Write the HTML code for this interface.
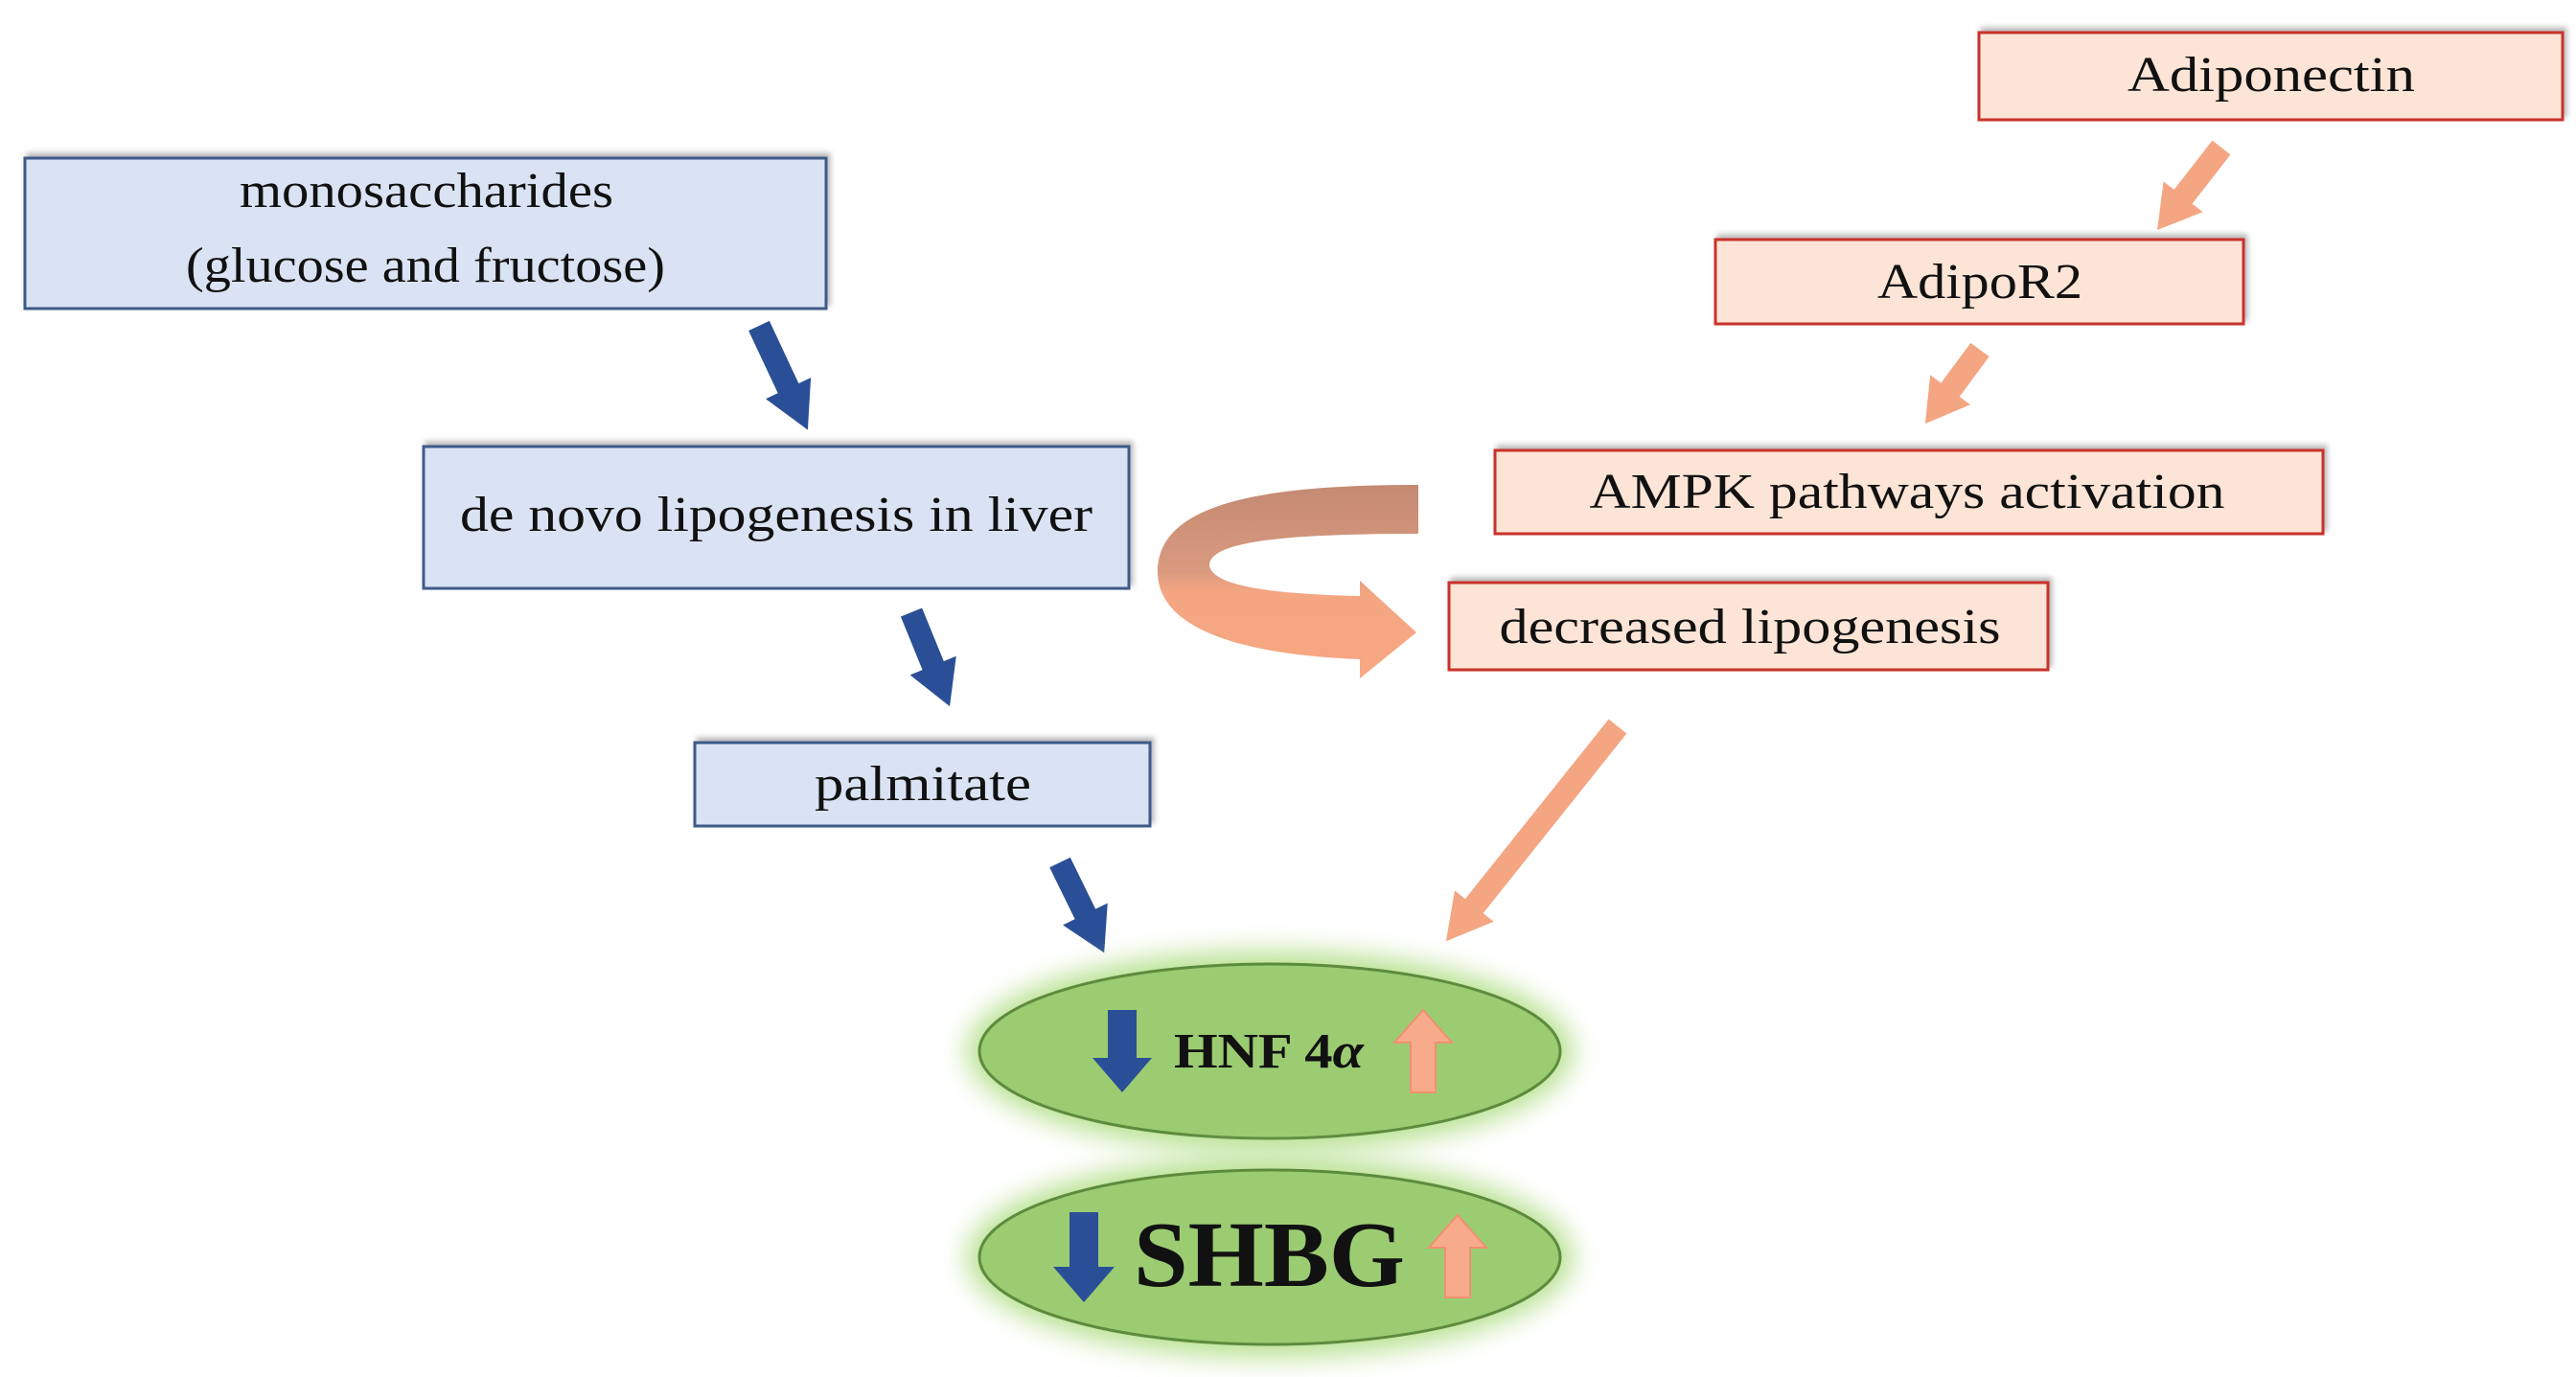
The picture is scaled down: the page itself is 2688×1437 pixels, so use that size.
<!DOCTYPE html>
<html><head><meta charset="utf-8"><style>
html,body{margin:0;padding:0;background:#fff;}
svg{display:block;}
text{font-family:"Liberation Serif",serif;fill:#111;}
</style></head><body>
<svg width="2688" height="1437" viewBox="0 0 2688 1437" xmlns="http://www.w3.org/2000/svg">
<defs>
<filter id="sh" x="-5%" y="-10%" width="110%" height="130%"><feDropShadow dx="3" dy="-4" stdDeviation="3" flood-color="#888" flood-opacity="0.6"/></filter>
<filter id="glow" x="-20%" y="-30%" width="140%" height="160%"><feGaussianBlur stdDeviation="14"/></filter>
<linearGradient id="cg" x1="0" y1="0" x2="0" y2="1"><stop offset="0" stop-color="#c48a72"/><stop offset="0.45" stop-color="#d99a80"/><stop offset="0.55" stop-color="#f4a582"/><stop offset="1" stop-color="#f7a882"/></linearGradient>
</defs>

<g filter="url(#sh)" fill="#dae3f3" stroke="#3d5a8a" stroke-width="3">
<rect x="26" y="165" width="836" height="157"/>
<rect x="442" y="466" width="736" height="148"/>
<rect x="725" y="775" width="475" height="87"/>
</g>
<g filter="url(#sh)" fill="#fce4d6" stroke="#c9302c" stroke-width="3">
<rect x="2065" y="34" width="609" height="91"/>
<rect x="1790" y="250" width="551" height="88"/>
<rect x="1560" y="470" width="864" height="87"/>
<rect x="1512" y="608" width="625" height="91"/>
</g>

<g font-size="52">
<text x="445" y="216" text-anchor="middle" textLength="390" lengthAdjust="spacingAndGlyphs">monosaccharides</text>
<text x="444" y="294" text-anchor="middle" textLength="500" lengthAdjust="spacingAndGlyphs">(glucose and fructose)</text>
<text x="810" y="554" text-anchor="middle" textLength="660" lengthAdjust="spacingAndGlyphs">de novo lipogenesis in liver</text>
<text x="963" y="835" text-anchor="middle" textLength="226" lengthAdjust="spacingAndGlyphs">palmitate</text>
<text x="2370" y="95" text-anchor="middle" textLength="300" lengthAdjust="spacingAndGlyphs">Adiponectin</text>
<text x="2066" y="311" text-anchor="middle" textLength="214" lengthAdjust="spacingAndGlyphs">AdipoR2</text>
<text x="1990" y="530" text-anchor="middle" textLength="663" lengthAdjust="spacingAndGlyphs">AMPK pathways activation</text>
<text x="1826" y="671" text-anchor="middle" textLength="523" lengthAdjust="spacingAndGlyphs">decreased lipogenesis</text>
</g>

<g fill="#2a4f96">
<polygon transform="translate(792,340) rotate(64.9)" points="0,-12 72,-12 72,-26 120,0 72,26 72,12 0,12"/>
<polygon transform="translate(951,639) rotate(67.8)" points="0,-12 60,-12 60,-26 106,0 60,26 60,12 0,12"/>
<polygon transform="translate(1106,900) rotate(63.9)" points="0,-12 60,-12 60,-26 105,0 60,26 60,12 0,12"/>
</g>
<g fill="#f4a582">
<polygon transform="translate(2318,154) rotate(127.9)" points="0,-12 65,-12 65,-26 109,0 65,26 65,12 0,12"/>
<polygon transform="translate(2066,365) rotate(126.5)" points="0,-12 52,-12 52,-26 96,0 52,26 52,12 0,12"/>
<polygon transform="translate(1688,758) rotate(128.6)" points="0,-12 240,-12 240,-26 287,0 240,26 240,12 0,12"/>
</g>

<path fill="url(#cg)" d="M1480,506 C1300,506 1205,530 1208,600 C1212,665 1320,684 1419,688 L1419,708 L1478,660 L1419,606 L1419,622 C1330,620 1265,612 1262,590 C1262,565 1340,557 1480,557 Z"/>

<ellipse cx="1325" cy="1097" rx="316" ry="104" fill="#b6e08e" filter="url(#glow)"/>
<ellipse cx="1325" cy="1097" rx="303" ry="91" fill="#9ccc72" stroke="#5d8b3c" stroke-width="3"/>
<ellipse cx="1325" cy="1312" rx="316" ry="104" fill="#b6e08e" filter="url(#glow)"/>
<ellipse cx="1325" cy="1312" rx="303" ry="91" fill="#9ccc72" stroke="#5d8b3c" stroke-width="3"/>
<text x="1225" y="1114" font-size="52" font-weight="bold" textLength="198" lengthAdjust="spacingAndGlyphs">HNF 4<tspan font-style="italic">α</tspan></text>
<text x="1183" y="1342" font-size="98" font-weight="bold" textLength="283" lengthAdjust="spacingAndGlyphs">SHBG</text>
<g fill="#2a4f96">
<polygon points="1156,1054 1186,1054 1186,1104 1202,1104 1171,1140 1140,1104 1156,1104"/>
<polygon points="1116,1265 1146,1265 1146,1322 1163,1322 1131,1359 1099,1322 1116,1322"/>
</g>
<g fill="#f7ab8a" stroke="#f09070" stroke-width="2">
<polygon points="1472,1140 1498,1140 1498,1088 1515,1088 1485,1054 1455,1088 1472,1088"/>
<polygon points="1508,1354 1534,1354 1534,1302 1551,1302 1521,1268 1491,1302 1508,1302"/>
</g>
</svg>
</body></html>
